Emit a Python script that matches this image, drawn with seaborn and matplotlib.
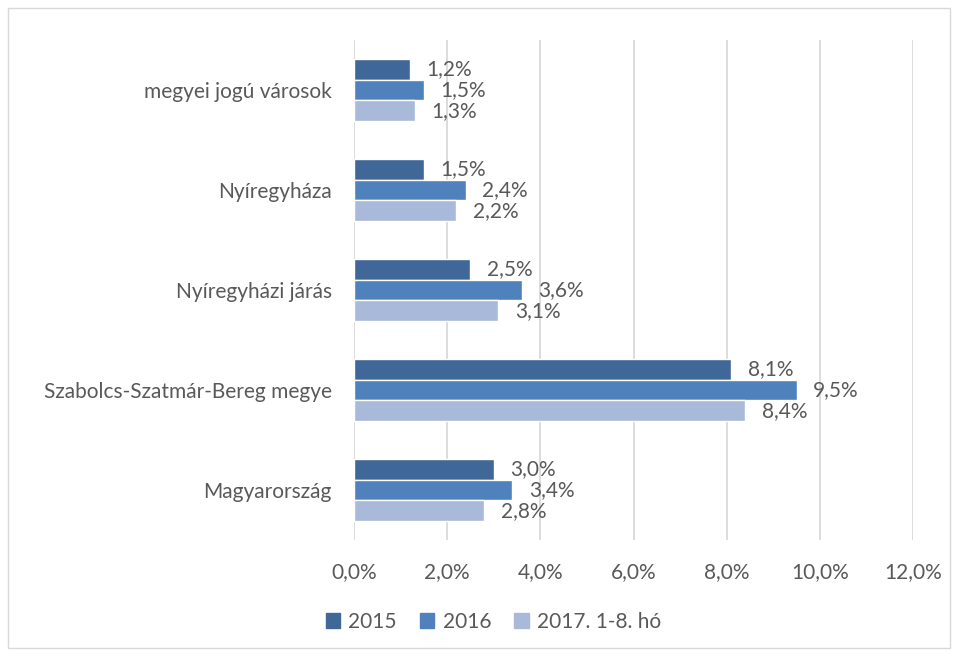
import matplotlib
matplotlib.use("Agg")
import matplotlib.pyplot as plt
import seaborn as sns
import pandas as pd
from matplotlib.patches import Rectangle
from matplotlib.ticker import FuncFormatter

categories = ["megyei jogú városok", "Nyíregyháza", "Nyíregyházi járás",
              "Szabolcs-Szatmár-Bereg megye", "Magyarország"]
series = ["2015", "2016", "2017. 1-8. hó"]
v2015 = [1.2, 1.5, 2.5, 8.1, 3.0]
v2016 = [1.5, 2.4, 3.6, 9.5, 3.4]
v2017 = [1.3, 2.2, 3.1, 8.4, 2.8]
colors = ["#3F6797", "#4F81BD", "#A9B9D9"]
xticks = [0, 2, 4, 6, 8, 10, 12]

rows = []
for s, vals in zip(series, [v2015, v2016, v2017]):
    for c, v in zip(categories, vals):
        rows.append({"cat": c, "series": s, "val": v})
df = pd.DataFrame(rows)

sns.set_theme(style="white")
plt.rcParams["font.family"] = ["Lato", "DejaVu Sans"]
txt = "#595959"
fs = 15

fig = plt.figure(figsize=(9.58, 6.55), dpi=100)
ax = fig.add_axes([354 / 958, 1 - 540 / 655, (913 - 354) / 958, 500 / 655])

sns.barplot(data=df, y="cat", x="val", hue="series", order=categories,
            hue_order=series, palette=colors, orient="h", width=0.62,
            gap=0, ax=ax, legend=False, saturation=1)

for cont in ax.containers:
    labels = [f"{v:.1f}".replace(".", ",") + "%" for v in cont.datavalues]
    ax.bar_label(cont, labels=labels, padding=12, fontsize=fs, color=txt)

ax.set_xlim(0, 12)
ax.set_ylim(4.5, -0.5)
ax.set_xticks(xticks)
ax.xaxis.set_major_formatter(FuncFormatter(lambda x, p: f"{x:.1f}".replace(".", ",") + "%"))
ax.grid(axis="x", color="#D9D9D9", linewidth=1.3)
ax.set_axisbelow(True)
for sp in ax.spines.values():
    sp.set_visible(False)
ax.tick_params(axis="both", length=0, labelsize=fs, colors=txt)
ax.tick_params(axis="x", pad=16)
ax.tick_params(axis="y", pad=16)
ax.set_xlabel("")
ax.set_ylabel("")

handles = [Rectangle((0, 0), 1, 1, color=c) for c in colors]
fig.legend(handles, series, loc="center", bbox_to_anchor=(0.515, 1 - 622 / 655),
           ncol=3, frameon=False, fontsize=fs, labelcolor=txt,
           handlelength=0.7, handleheight=0.7, columnspacing=1.1, handletextpad=0.4)

fig.patches.append(Rectangle((8 / 958, 1 - 648 / 655), (950 - 8) / 958, (648 - 8) / 655,
                             transform=fig.transFigure, fill=False,
                             edgecolor="#D9D9D9", linewidth=1))

fig.savefig("out.png", dpi=100, facecolor="white")
